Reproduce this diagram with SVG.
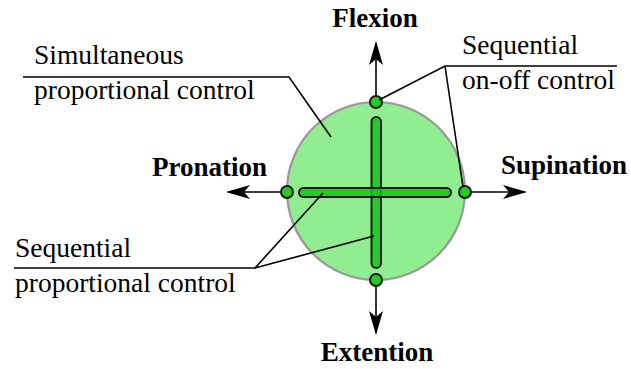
<svg xmlns="http://www.w3.org/2000/svg" width="631" height="369" viewBox="0 0 631 369">
<style>
.lbl{font-family:"Liberation Serif","Times New Roman",Times,serif;font-size:27.5px;fill:#000}
.ax{font-family:"Liberation Serif","Times New Roman",Times,serif;font-size:27px;font-weight:bold;fill:#000}
.ln{stroke:#000;stroke-width:1.6;fill:none}
.dot{fill:#22cc22;stroke:#1a1a1a;stroke-width:2}
.bar{fill:#11c811;fill-opacity:0.85;stroke:#1a1a1a;stroke-width:2}
</style>
<defs>
<marker id="ah" viewBox="0 0 24 14" refX="22" refY="7" markerWidth="24" markerHeight="14" markerUnits="userSpaceOnUse" orient="auto">
<path d="M0,0 L24,7 L0,14 L6,7 Z" fill="#000"/>
</marker>
</defs>
<g id="axes" class="connectors">
<line class="ln" x1="376" y1="192" x2="376" y2="43" marker-end="url(#ah)"/>
<line class="ln" x1="376" y1="192" x2="376" y2="333" marker-end="url(#ah)"/>
<line class="ln" x1="376" y1="192" x2="228" y2="192" marker-end="url(#ah)"/>
<line class="ln" x1="376" y1="192" x2="525" y2="192" marker-end="url(#ah)"/>
</g>
<g id="circle">
<circle cx="376" cy="191" r="89" fill="#90ee90" stroke="#999" stroke-width="2.2"/>
</g>
<g id="bars">
<rect class="bar" x="371.5" y="117" width="9.5" height="151" rx="4.75"/>
<rect class="bar" x="299" y="188" width="152" height="9" rx="4.5"/>
</g>
<g id="dots">
<circle class="dot" cx="376" cy="102" r="6"/>
<circle class="dot" cx="376" cy="280" r="6"/>
<circle class="dot" cx="287" cy="192" r="6"/>
<circle class="dot" cx="465" cy="192" r="6"/>
</g>
<g id="leaders" class="connectors">
<polyline class="ln" points="23,77 289,77 331,137"/>
<polyline class="ln" points="617,66 445,66 379,100"/>
<line class="ln" x1="445" y1="66" x2="463" y2="187"/>
<polyline class="ln" points="14,268 255,268 323,193"/>
<line class="ln" x1="255" y1="268" x2="374" y2="236"/>
</g>
<g id="label-flexion"><text class="ax" x="375" y="27" text-anchor="middle">Flexion</text></g>
<g id="label-extention"><text class="ax" x="377" y="361" text-anchor="middle">Extention</text></g>
<g id="label-pronation"><text class="ax" x="267" y="176" text-anchor="end">Pronation</text></g>
<g id="label-supination"><text class="ax" x="501" y="174">Supination</text></g>
<g id="label-simultaneous">
<text class="lbl" x="34" y="64">Simultaneous</text>
<text class="lbl" x="34" y="99">proportional control</text>
</g>
<g id="label-seq-onoff">
<text class="lbl" x="462" y="54">Sequential</text>
<text class="lbl" x="462" y="89">on-off control</text>
</g>
<g id="label-seq-prop">
<text class="lbl" x="15" y="257">Sequential</text>
<text class="lbl" x="15" y="292">proportional control</text>
</g>
</svg>
